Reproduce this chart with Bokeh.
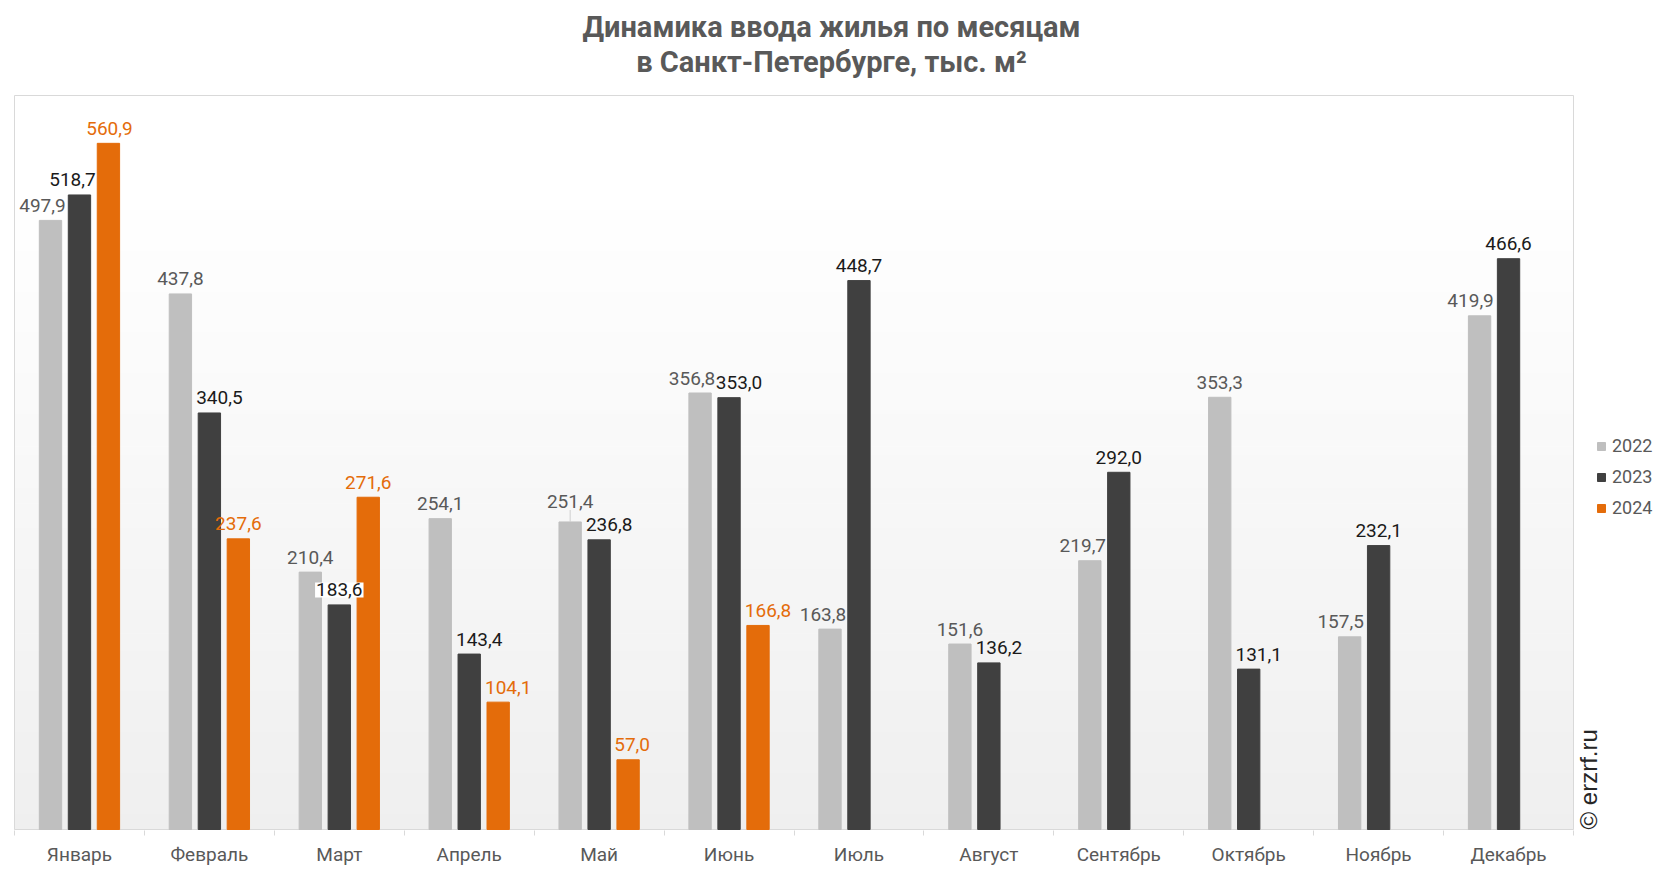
import numpy as np
from bokeh.plotting import figure
from bokeh.models import ColumnDataSource, Range1d, FixedTicker, Legend, LegendItem, Label
from bokeh.core.properties import value
from bokeh.embed import file_html
from bokeh.resources import INLINE

# ---- data ----
months = ["Январь", "Февраль", "Март", "Апрель", "Май", "Июнь",
          "Июль", "Август", "Сентябрь", "Октябрь", "Ноябрь", "Декабрь"]
v2022 = [497.9, 437.8, 210.4, 254.1, 251.4, 356.8, 163.8, 151.6, 219.7, 353.3, 157.5, 419.9]
v2023 = [518.7, 340.5, 183.6, 143.4, 236.8, 353.0, 448.7, 136.2, 292.0, 131.1, 232.1, 466.6]
v2024 = [560.9, 237.6, 271.6, 104.1, 57.0, 166.8, None, None, None, None, None, None]
years = ["2022", "2023", "2024"]
title_lines = ["Динамика ввода жилья по месяцам", "в Санкт-Петербурге, тыс. м²"]

# ---- label nudges (screen px) ----
dx2022 = [-8, 0, 0, 0, 0, -8, -7, 0, -7, 0, -9, -9]
dx2023 = [-7, 10, 0, 10, 10, 10, 0, 10, 0, 10, 0, 0]
dx2024 = [1, 0, 0, 10, 4, 10, 0, 0, 0, 0, 0, 0]
dy2022 = [-15, -15, -15, -15, -20, -15, -15, -15, -15, -15, -15, -15]
lead2022 = [0, 0, 0, 0, 1, 0, 0, 0, 0, 0, 0, 0]
bg2023 = [0, 0, 1, 0, 0, 0, 0, 0, 0, 0, 0, 0]

fills = ["#bfbfbf", "#404040", "#e46c0a"]
lab_colors = ["#595959", "#1a1a1a", "#e46c0a"]
offsets = [-0.223, 0.0, 0.223]
BAR_W = 0.172
YMAX = 600
NCAT = len(months)

# ---- geometry (screen px) ----
W, H = 1666, 872
PLOT_L, PLOT_R, PLOT_T, PLOT_B = 14, 1573, 95, 829
FRAME_B = 830
ppx = (PLOT_R - PLOT_L) / NCAT
ppy = (PLOT_B - PLOT_T) / YMAX
x_start = -PLOT_L / ppx
x_end = (W - PLOT_L) / ppx
y_start = -(FRAME_B - PLOT_B) / ppy
y_end = y_start + FRAME_B / ppy


def sx(px):  # screen x -> data x
    return (px - PLOT_L) / ppx


def sy(py):  # screen y -> data y
    return (PLOT_B - py) / ppy


def fmt(v):
    return f"{v:.1f}".replace(".", ",")


p = figure(width=W, height=H, x_range=Range1d(x_start, x_end), y_range=Range1d(y_start, y_end),
           output_backend="svg", toolbar_location=None, y_axis_location=None, title=None,
           min_border_left=0, min_border_right=0, min_border_top=0,
           min_border_bottom=H - FRAME_B)
p.background_fill_color = "white"
p.border_fill_color = "white"
p.outline_line_color = None
p.xgrid.visible = False
p.ygrid.visible = False

# gradient background of plot area
n = 90
ys = np.linspace(0, YMAX, n + 1)
cols = []
for i in range(n):
    t = (ys[i] + ys[i + 1]) / 2 / YMAX
    c = int(round(239 + (255 - 239) * min(1.0, t * 1.15)))
    cols.append("#%02x%02x%02x" % (c, c, c))
p.quad(left=0, right=NCAT, bottom=ys[:-1], top=ys[1:], fill_color=cols, line_color=cols, line_width=1)
# plot-area border
p.quad(left=0, right=NCAT, bottom=0, top=YMAX, fill_color=None, line_color="#d9d9d9", line_width=1)

centers = np.arange(NCAT) + 0.5
series = [v2022, v2023, v2024]
dxs = [dx2022, dx2023, dx2024]
renderers = []
sources = []
for k, vals in enumerate(series):
    xs, tops, texts, dx, dy, bga = [], [], [], [], [], []
    for i, v in enumerate(vals):
        if v is None:
            continue
        xs.append(centers[i] + offsets[k])
        tops.append(v)
        texts.append(fmt(v))
        dx.append(dxs[k][i])
        dy.append(dy2022[i] if k == 0 else -15)
        bga.append(bg2023[i] if k == 1 else 0)
    src = ColumnDataSource(dict(x=xs, top=tops, t=texts, dx=dx, dy=dy, bga=bga))
    sources.append(src)
    r = p.vbar(x="x", top="top", width=BAR_W, source=src, fill_color=fills[k], line_color=fills[k])
    renderers.append(r)

# leader lines for raised labels
lx = [centers[i] + offsets[0] for i in range(NCAT) if lead2022[i]]
ly = [v2022[i] for i in range(NCAT) if lead2022[i]]
p.segment(x0=lx, y0=ly, x1=lx, y1=[v + 12 / ppy for v in ly], line_color="#cfcfcf", line_width=1)

for k, src in enumerate(sources):
    p.text(x="x", y="top", text="t", source=src, x_offset="dx", y_offset="dy",
           text_align="center", text_baseline="alphabetic",
           text_font=value("Roboto"), text_font_size="19px", text_color=lab_colors[k],
           background_fill_color="white", background_fill_alpha="bga", padding=1)

# x axis: labels at centers, ticks at category boundaries
ax = p.xaxis[0]
ax.ticker = FixedTicker(ticks=list(centers), minor_ticks=list(np.arange(NCAT + 1)))
ax.major_label_overrides = {float(c): m for c, m in zip(centers, months)}
ax.major_tick_line_color = None
ax.major_tick_out = 0
ax.major_tick_in = 0
ax.minor_tick_line_color = "#d9d9d9"
ax.minor_tick_out = 5
ax.minor_tick_in = 0
ax.axis_line_color = None
ax.major_label_text_font = "Roboto"
ax.major_label_text_font_size = "19px"
ax.major_label_text_color = "#595959"
ax.major_label_standoff = 7

# title: two centered lines
for line, base in zip(title_lines, [26.1, 61.1]):
    p.add_layout(Label(x=sx(831), y=sy(base), text=line, text_align="center",
                       text_baseline="alphabetic", text_font="Roboto", text_font_size="29px",
                       text_font_style="bold", text_color="#595959"))

# legend
legend = Legend(items=[LegendItem(label=y, renderers=[r]) for y, r in zip(years, renderers)],
                location=(1596, FRAME_B - 518), orientation="vertical",
                glyph_width=10, glyph_height=10, label_height=20, spacing=10,
                label_standoff=6, padding=10, margin=0,
                label_text_font="Roboto", label_text_font_size="18px", label_text_color="#595959",
                border_line_color=None, background_fill_alpha=0)
p.add_layout(legend)

# watermark
p.add_layout(Label(x=sx(1588), y=0, text="© erzrf.ru", angle=np.pi / 2,
                   text_align="left", text_baseline="alphabetic",
                   text_font="Liberation Sans", text_font_size="24px", text_color="#262626"))

open("out.html", "w").write(file_html(p, INLINE))
